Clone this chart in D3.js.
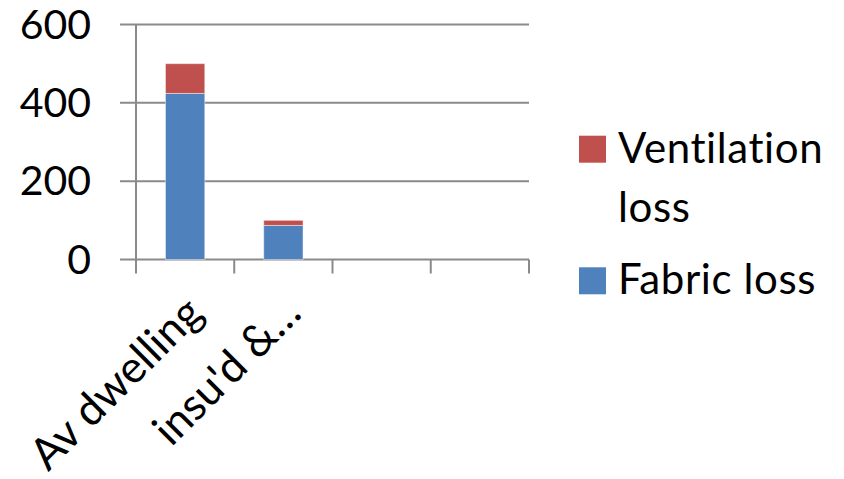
<!DOCTYPE html>
<html>
<head>
<meta charset="utf-8">
<script src="https://cdn.jsdelivr.net/npm/d3@7"></script>
<style>
  html, body { margin: 0; padding: 0; background: #fff; }
  svg { display: block; font-family: Lato, "Open Sans", sans-serif; }
</style>
</head>
<body>
<svg id="chart" width="844" height="479"></svg>
<script>
// Heat loss per dwelling type, stacked
const categories = ["Av dwelling", "insu'd &…", "", ""];
const fabricLoss = [424, 87, 0, 0];
const ventilationLoss = [76, 13, 0, 0];
const yTicks = [0, 200, 400, 600];
const seriesNames = ["Ventilation loss", "Fabric loss"];
const seriesColors = ["#C0504D", "#4F81BD"];

const svg = d3.select("#chart");
const plot = { left: 136, right: 529, top: 24.5, bottom: 259.5 };
const gridColor = "#8a8a8a";

const x = d3.scaleBand().domain(d3.range(categories.length)).range([plot.left, plot.right]).padding(0);
const y = d3.scaleLinear().domain([0, 600]).range([plot.bottom, plot.top]);

// Horizontal gridlines (with outward tick stubs on the left)
svg.append("g").selectAll("line.grid")
  .data(yTicks)
  .join("line")
  .attr("x1", plot.left - 16).attr("x2", plot.right)
  .attr("y1", d => y(d)).attr("y2", d => y(d))
  .attr("stroke", gridColor).attr("stroke-width", 2);

// Y tick labels
svg.append("g").selectAll("text.ylab")
  .data(yTicks)
  .join("text")
  .attr("x", 91).attr("y", d => y(d) + 14)
  .attr("text-anchor", "end")
  .attr("font-size", 41).attr("fill", "#000")
  .text(d => d);

// Stacked bars
const rows = categories.map((c, i) => ({ i, fabric: fabricLoss[i], ventilation: ventilationLoss[i] }));
const stack = d3.stack().keys(["fabric", "ventilation"])(rows);
const barW = x.bandwidth() * 0.4;
const colorFor = { fabric: seriesColors[1], ventilation: seriesColors[0] };
svg.append("g").selectAll("g.series")
  .data(stack)
  .join("g")
  .attr("fill", d => colorFor[d.key])
  .selectAll("rect")
  .data(d => d.filter(p => p[1] > p[0]))
  .join("rect")
  .attr("x", d => x(d.data.i) + (x.bandwidth() - barW) / 2)
  .attr("width", barW)
  .attr("y", d => y(d[1]))
  .attr("height", d => y(d[0]) - y(d[1]))
  .attr("stroke", "rgba(255,255,255,0.45)")
  .attr("stroke-width", 1);

// Category axis: tick marks at band boundaries, y axis line
const boundaries = d3.range(categories.length + 1).map(i => plot.left + i * x.step());
svg.append("g").selectAll("line.xt")
  .data(boundaries)
  .join("line")
  .attr("x1", d => d).attr("x2", d => d)
  .attr("y1", plot.bottom).attr("y2", plot.bottom + 14)
  .attr("stroke", gridColor).attr("stroke-width", 2);
svg.append("line")
  .attr("x1", plot.left).attr("x2", plot.left)
  .attr("y1", plot.top).attr("y2", plot.bottom)
  .attr("stroke", gridColor).attr("stroke-width", 2);

// Rotated category labels
svg.append("g").selectAll("text.xlab")
  .data(categories)
  .join("text")
  .attr("transform", (d, i) => `translate(${x(i) + x.bandwidth() / 2 + 20},${plot.bottom + 56}) rotate(-45)`)
  .attr("text-anchor", "end")
  .attr("font-size", 44).attr("fill", "#000")
  .text(d => d);

// Legend
const legend = svg.append("g");
const legendItems = [
  { lines: ["Ventilation", "loss"], color: seriesColors[0], y: 162.7 },
  { lines: ["Fabric loss"], color: seriesColors[1], y: 294.3 }
];
legendItems.forEach(item => {
  legend.append("rect")
    .attr("x", 579).attr("y", item.y - 27)
    .attr("width", 27).attr("height", 27)
    .attr("fill", item.color);
  const t = legend.append("text")
    .attr("x", 618).attr("y", item.y)
    .attr("font-size", 42).attr("letter-spacing", 0.6).attr("fill", "#000");
  item.lines.forEach((ln, k) => {
    t.append("tspan").attr("x", 618).attr("y", item.y + k * 59).text(ln);
  });
});
</script>
</body>
</html>
